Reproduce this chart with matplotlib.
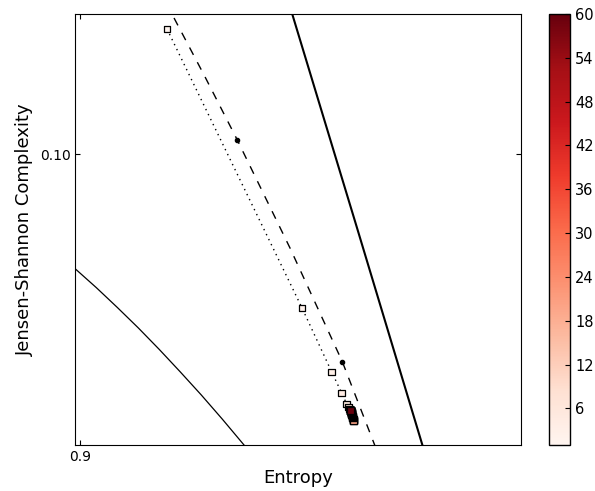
import numpy as np
import matplotlib
matplotlib.use("Agg")
import matplotlib.pyplot as plt
from matplotlib.colors import Normalize
from matplotlib.cm import ScalarMappable

# scale index (colour) and the entropy / complexity reached at each scale
scales = np.arange(1, 61)
entropy = [
    0.91978, 0.95037, 0.95710, 0.95937, 0.96050, 0.96091, 0.96114, 0.96132,
    0.96148, 0.96161, 0.96175, 0.96186, 0.96193, 0.96198, 0.96202, 0.96204,
    0.96207, 0.96209, 0.96209, 0.96209, 0.96190, 0.96186, 0.96182, 0.96178,
    0.96175, 0.96172, 0.96169, 0.96166, 0.96164, 0.96163, 0.96161, 0.96160,
    0.96158, 0.96157, 0.96156, 0.96155, 0.96154, 0.96153, 0.96152, 0.96151,
    0.96150, 0.96149, 0.96148, 0.96147, 0.96147, 0.96146, 0.96145, 0.96145,
    0.96144, 0.96144, 0.96143, 0.96143, 0.96143, 0.96142, 0.96142, 0.96142,
    0.96141, 0.96141, 0.96141, 0.96141,
]
complexity = [
    0.10580, 0.09286, 0.08989, 0.08891, 0.08840, 0.08827, 0.08817, 0.08808,
    0.08799, 0.08792, 0.08785, 0.08778, 0.08774, 0.08771, 0.08768, 0.08766,
    0.08765, 0.08763, 0.08762, 0.08761, 0.08775, 0.08778, 0.08781, 0.08784,
    0.08786, 0.08788, 0.08790, 0.08792, 0.08793, 0.08794, 0.08795, 0.08796,
    0.08798, 0.08799, 0.08800, 0.08801, 0.08802, 0.08803, 0.08804, 0.08804,
    0.08805, 0.08805, 0.08806, 0.08806, 0.08807, 0.08807, 0.08807, 0.08808,
    0.08808, 0.08808, 0.08809, 0.08809, 0.08809, 0.08809, 0.08809, 0.08810,
    0.08810, 0.08810, 0.08810, 0.08810,
]

# reference curve (dashed) with two marked points
ref_h = [0.92137, 0.92839, 0.93571, 0.94765, 0.95950, 0.96737]
ref_c = [0.10631, 0.10358, 0.10065, 0.09564, 0.09037, 0.08622]
ref_pts_h = [0.93571, 0.95950]
ref_pts_c = [0.10065, 0.09037]

# bounding curves of the plane
lower_h = [0.89900, 0.90376, 0.90852, 0.91328, 0.91804, 0.92279,
           0.92755, 0.93231, 0.93723]
lower_c = [0.09467, 0.09380, 0.09288, 0.09193, 0.09093, 0.08989,
           0.08882, 0.08770, 0.08650]
upper_h = [0.94800, 0.96280, 0.97780]
upper_c = [0.10660, 0.09660, 0.08640]

fig = plt.figure(figsize=(5.95, 4.91), dpi=100)
ax = fig.add_axes([0.1266, 0.0937, 0.749, 0.878])
cax = fig.add_axes([0.9227, 0.0937, 0.0358, 0.878])

ax.plot(lower_h, lower_c, color="black", lw=0.9)
ax.plot(upper_h, upper_c, color="black", lw=1.5)
ax.plot(ref_h, ref_c, color="black", ls=(0, (6, 6)), lw=1.0)
ax.plot(ref_pts_h, ref_pts_c, "o", color="black", ms=3)
ax.plot(entropy, complexity, color="black", ls=(0, (1, 3)), lw=1.0)

norm = Normalize(vmin=1, vmax=60)
ax.scatter(entropy, complexity, c=scales, cmap="Reds", norm=norm,
           marker="s", s=22, edgecolors="black", linewidths=0.9, zorder=3)

ax.set_xlim(0.899, 1.0)
ax.set_ylim(0.0865, 0.1065)
ax.set_xticks([0.9])
ax.set_xticklabels(["0.9"])
ax.set_yticks([0.1])
ax.set_yticklabels(["0.10"])
ax.tick_params(direction="in", length=3.5, top=True, right=True, labelsize=10)
ax.set_xlabel("Entropy", fontsize=13)
ax.set_ylabel("Jensen-Shannon Complexity", fontsize=13)

cb = fig.colorbar(ScalarMappable(norm=norm, cmap="Reds"), cax=cax)
cb.set_ticks(np.arange(6, 61, 6))
cb.ax.tick_params(direction="in", length=3.5, labelsize=10.5)
cb.outline.set_linewidth(1.0)

fig.savefig("out.png", dpi=100)
